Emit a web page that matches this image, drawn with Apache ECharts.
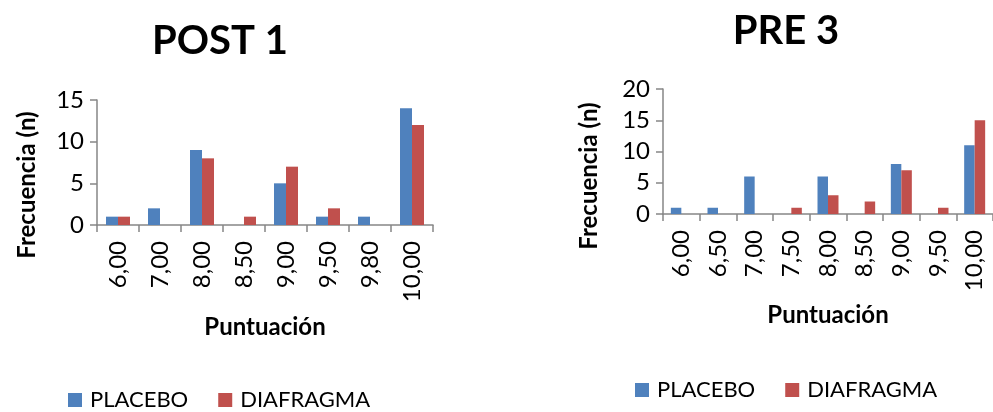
<!DOCTYPE html>
<html>
<head>
<meta charset="utf-8">
<script src="https://cdn.jsdelivr.net/npm/echarts@6/dist/echarts.min.js"></script>
<style>html,body{margin:0;padding:0;background:#fff}#c{width:993px;height:412px}</style>
</head>
<body>
<div id="c"></div>
<script>
// POST 1 data
const postCategories = ['6,00','7,00','8,00','8,50','9,00','9,50','9,80','10,00'];
const postPlacebo    = [1, 2, 9, 0, 5, 1, 1, 14];
const postDiafragma  = [1, 0, 8, 1, 7, 2, 0, 12];
// PRE 3 data
const preCategories = ['6,00','6,50','7,00','7,50','8,00','8,50','9,00','9,50','10,00'];
const prePlacebo    = [1, 1, 6, 0, 6, 0, 8, 0, 11];
const preDiafragma  = [0, 0, 0, 1, 3, 2, 7, 1, 15];
const legendNames   = ['PLACEBO', 'DIAFRAGMA'];
const yName = 'Frecuencia (n)';
const xName = 'Puntuación';

const FONT = 'Lato';
const BLUE = '#4F81BD', RED = '#C0504D', AX = '#868686';

function xAxis(idx, cats, gap) {
  return {
    type: 'category', gridIndex: idx, data: cats,
    name: xName, nameLocation: 'middle', nameGap: gap,
    nameTextStyle: {fontFamily: FONT, fontWeight: 'bold', fontSize: 24, color: '#000'},
    axisLine: {lineStyle: {color: AX, width: 1.5}},
    axisTick: {show: true, length: 7, lineStyle: {color: AX, width: 1.5}},
    axisLabel: {rotate: 90, margin: 16, fontFamily: FONT, fontSize: 24, color: '#000', interval: 0},
    splitLine: {show: false}
  };
}
function yAxis(idx, max) {
  return {
    type: 'value', gridIndex: idx, min: 0, max: max, interval: 5,
    axisLine: {show: true, lineStyle: {color: AX, width: 1.5}},
    axisTick: {show: true, length: 7, lineStyle: {color: AX, width: 1.5}},
    axisLabel: {margin: 13, fontFamily: FONT, fontSize: 24, color: '#000'},
    splitLine: {show: false}
  };
}
function yLabel(x, y) {
  return {
    type: 'text', x: x, y: y, rotation: Math.PI / 2,
    style: {text: yName, fontFamily: FONT, fontWeight: 'bold', fontSize: 24, fill: '#000',
            align: 'center', verticalAlign: 'middle'}
  };
}

const chart = echarts.init(document.getElementById('c'), null, {renderer: 'canvas'});
chart.setOption({
  animation: false,
  title: [
    {text: 'POST 1', left: 215, top: 16, textAlign: 'center',
     textStyle: {fontFamily: FONT, fontWeight: 'bold', fontSize: 40, color: '#000'}},
    {text: 'PRE 3', left: 781, top: 6, textAlign: 'center',
     textStyle: {fontFamily: FONT, fontWeight: 'bold', fontSize: 40, color: '#000'}}
  ],
  legend: [
    {left: 68, top: 389, padding: 0, itemWidth: 14, itemHeight: 14, itemGap: 30, icon: 'rect',
     data: legendNames,
     textStyle: {fontFamily: FONT, fontSize: 22, color: '#000', padding: [0,0,0,3]}},
    {left: 635, top: 379, padding: 0, itemWidth: 14, itemHeight: 14, itemGap: 30, icon: 'rect',
     data: legendNames,
     textStyle: {fontFamily: FONT, fontSize: 22, color: '#000', padding: [0,0,0,3]}}
  ],
  graphic: [yLabel(27, 185), yLabel(589, 176)],
  grid: [
    {left: 97, top: 100, width: 336, height: 125},
    {left: 663, top: 89, width: 337.5, height: 125}
  ],
  xAxis: [xAxis(0, postCategories, 90), xAxis(1, preCategories, 89)],
  yAxis: [yAxis(0, 15), yAxis(1, 20)],
  series: [
    {name: 'PLACEBO', type: 'bar', xAxisIndex: 0, yAxisIndex: 0, data: postPlacebo,
     barWidth: 12, barGap: '0%', itemStyle: {color: BLUE}},
    {name: 'DIAFRAGMA', type: 'bar', xAxisIndex: 0, yAxisIndex: 0, data: postDiafragma,
     barWidth: 12, barGap: '0%', itemStyle: {color: RED}},
    {name: 'PLACEBO', type: 'bar', xAxisIndex: 1, yAxisIndex: 1, data: prePlacebo,
     barWidth: 10.5, barGap: '0%', itemStyle: {color: BLUE}},
    {name: 'DIAFRAGMA', type: 'bar', xAxisIndex: 1, yAxisIndex: 1, data: preDiafragma,
     barWidth: 10.5, barGap: '0%', itemStyle: {color: RED}}
  ]
});
</script>
</body>
</html>
